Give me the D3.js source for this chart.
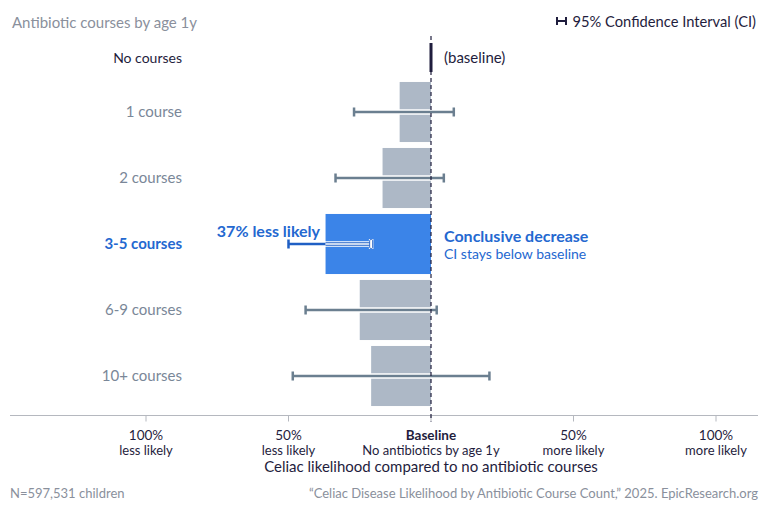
<!DOCTYPE html>
<html>
<head>
<meta charset="utf-8">
<script src="https://cdn.jsdelivr.net/npm/d3@7"></script>
<style>
  body { margin: 0; background: #fff; }
  svg { font-family: Lato, "Noto Sans", sans-serif; }
</style>
</head>
<body>
<div id="chart"></div>
<script>
// rows: change in likelihood vs baseline (fraction), with 95% CI
const categories = ['1 course', '2 courses', '3-5 courses', '6-9 courses', '10+ courses'];
const values = [-0.11, -0.17, -0.37, -0.25, -0.21];
const ciLow = [-0.27, -0.335, -0.50, -0.44, -0.485];
const ciHigh = [0.08, 0.045, -0.21, 0.02, 0.205];
const highlight = '3-5 courses';

const tickValues = [-1, -0.5, 0, 0.5, 1];
const tickTop = ['100%', '50%', 'Baseline', '50%', '100%'];
const tickBottom = ['less likely', 'less likely', 'No antibiotics by age 1y', 'more likely', 'more likely'];

const width = 768, height = 512;
const dark = '#1f1d3d', gray = '#7a8798', blue = '#2468d0';

const svg = d3.select('#chart').append('svg')
  .attr('width', width)
  .attr('height', height);

const x = d3.scaleLinear().domain([-1, 1]).range([146, 716]);
const y = d3.scaleBand().domain(categories).range([79, 409]).paddingInner(0.09).paddingOuter(0.045);

// header
svg.append('text').attr('x', 12).attr('y', 28)
  .attr('font-size', 15).attr('fill', '#8a909c')
  .text('Antibiotic courses by age 1y');

const legend = svg.append('g');
legend.append('text').attr('x', 756).attr('y', 27)
  .attr('text-anchor', 'end').attr('font-size', 14.7).attr('fill', dark)
  .text('95% Confidence Interval (CI)');
legend.append('path').attr('d', 'M557,17 V25 M566,17 V25 M557,21 H566')
  .attr('stroke', dark).attr('stroke-width', 2).attr('fill', 'none');

// axis
const axisY = 415.5;
svg.append('line').attr('x1', 10).attr('x2', 758).attr('y1', axisY).attr('y2', axisY)
  .attr('stroke', '#b5b8bf').attr('stroke-width', 1.2);
svg.selectAll('.tick').data(tickValues).enter().append('line')
  .attr('x1', d => x(d)).attr('x2', d => x(d))
  .attr('y1', axisY).attr('y2', axisY + 6)
  .attr('stroke', '#b5b8bf');

svg.selectAll('.tickTop').data(tickValues).enter().append('text')
  .attr('x', d => x(d)).attr('y', 440)
  .attr('text-anchor', 'middle').attr('font-size', 13.5).attr('fill', dark)
  .attr('font-weight', (d, i) => d === 0 ? 'bold' : 'normal')
  .text((d, i) => tickTop[i]);
svg.selectAll('.tickBottom').data(tickValues).enter().append('text')
  .attr('x', d => x(d)).attr('y', 455)
  .attr('text-anchor', 'middle').attr('font-size', 13).attr('fill', dark)
  .text((d, i) => tickBottom[i]);

svg.append('text').attr('x', x(0)).attr('y', 472)
  .attr('text-anchor', 'middle').attr('font-size', 15).attr('fill', dark)
  .text('Celiac likelihood compared to no antibiotic courses');

// bars
const rows = svg.selectAll('.row').data(categories).enter().append('g');

rows.append('rect')
  .attr('x', (d, i) => x(values[i]))
  .attr('width', (d, i) => x(0) - x(values[i]))
  .attr('y', d => y(d))
  .attr('height', y.bandwidth())
  .attr('fill', d => d === highlight ? '#3b84e8' : '#adb8c6');

rows.append('text')
  .attr('x', 182)
  .attr('y', d => y(d) + y.bandwidth() / 2 + 5)
  .attr('text-anchor', 'end')
  .attr('font-size', 15)
  .attr('font-weight', d => d === highlight ? 'bold' : 'normal')
  .attr('fill', d => d === highlight ? blue : gray)
  .text(d => d);

// CI whiskers
rows.each(function(d, i) {
  const g = d3.select(this);
  const cy = y(d) + y.bandwidth() / 2;
  const x1 = x(ciLow[i]), x2 = x(ciHigh[i]);
  const col = d === highlight ? '#1f5fc4' : '#6b7f90';
  // white halo
  g.append('path').attr('d', `M${x1},${cy} H${x2}`)
    .attr('stroke', '#fff').attr('stroke-width', 5.5).attr('fill', 'none');
  g.append('path').attr('d', `M${x1},${cy - 5} V${cy + 5} M${x2},${cy - 5} V${cy + 5}`)
    .attr('stroke', '#fff').attr('stroke-width', 4.5).attr('fill', 'none');
  if (d === highlight) {
    // solid outside the bar, hollow inside it
    const bx = x(values[i]);
    g.append('path').attr('d', `M${x1},${cy} H${bx} M${x1},${cy - 4.5} V${cy + 4.5}`)
      .attr('stroke', col).attr('stroke-width', 2.5).attr('fill', 'none');
    g.append('path').attr('d', `M${bx},${cy} H${x2}`)
      .attr('stroke', col).attr('stroke-width', 3.5).attr('fill', 'none');
    g.append('path').attr('d', `M${bx},${cy} H${x2}`)
      .attr('stroke', '#fff').attr('stroke-width', 1.6).attr('fill', 'none');
    g.append('rect').attr('x', x2 - 1.5).attr('y', cy - 4.5).attr('width', 3).attr('height', 9)
      .attr('rx', 1.2).attr('fill', '#fff').attr('stroke', col).attr('stroke-width', 0.9);
  } else {
    g.append('path').attr('d', `M${x1},${cy} H${x2} M${x1},${cy - 4.5} V${cy + 4.5} M${x2},${cy - 4.5} V${cy + 4.5}`)
      .attr('stroke', col).attr('stroke-width', 2.5).attr('fill', 'none');
  }
});

// baseline line
svg.append('line').attr('x1', x(0)).attr('x2', x(0)).attr('y1', 36).attr('y2', axisY + 6)
  .attr('stroke', dark).attr('stroke-width', 1.2).attr('stroke-dasharray', '4,3');

// baseline row
svg.append('rect').attr('x', x(0) - 1.5).attr('width', 3).attr('y', 43).attr('height', 29)
  .attr('fill', dark);
svg.append('text').attr('x', 182).attr('y', 63)
  .attr('text-anchor', 'end').attr('font-size', 14).attr('fill', dark)
  .text('No courses');
svg.append('text').attr('x', 444).attr('y', 63)
  .attr('font-size', 15).attr('fill', dark)
  .text('(baseline)');

// annotations for highlight
const hi = categories.indexOf(highlight);
const hy = y(highlight);
svg.append('text').attr('x', 320).attr('y', hy + 23)
  .attr('text-anchor', 'end').attr('font-size', 16).attr('font-weight', 'bold').attr('fill', blue)
  .text(Math.round(-values[hi] * 100) + '% less likely');
svg.append('text').attr('x', 444).attr('y', hy + 28)
  .attr('font-size', 16).attr('font-weight', 'bold').attr('fill', blue)
  .text('Conclusive decrease');
svg.append('text').attr('x', 444).attr('y', hy + 45)
  .attr('font-size', 14).attr('fill', blue)
  .text('CI stays below baseline');

// footer
svg.append('text').attr('x', 10).attr('y', 498)
  .attr('font-size', 13).attr('fill', '#8a909c')
  .text('N=597,531 children');
svg.append('text').attr('x', 758).attr('y', 498)
  .attr('text-anchor', 'end').attr('font-size', 13).attr('fill', '#8a909c')
  .text('\u201cCeliac Disease Likelihood by Antibiotic Course Count,\u201d 2025. EpicResearch.org');
</script>
</body>
</html>
